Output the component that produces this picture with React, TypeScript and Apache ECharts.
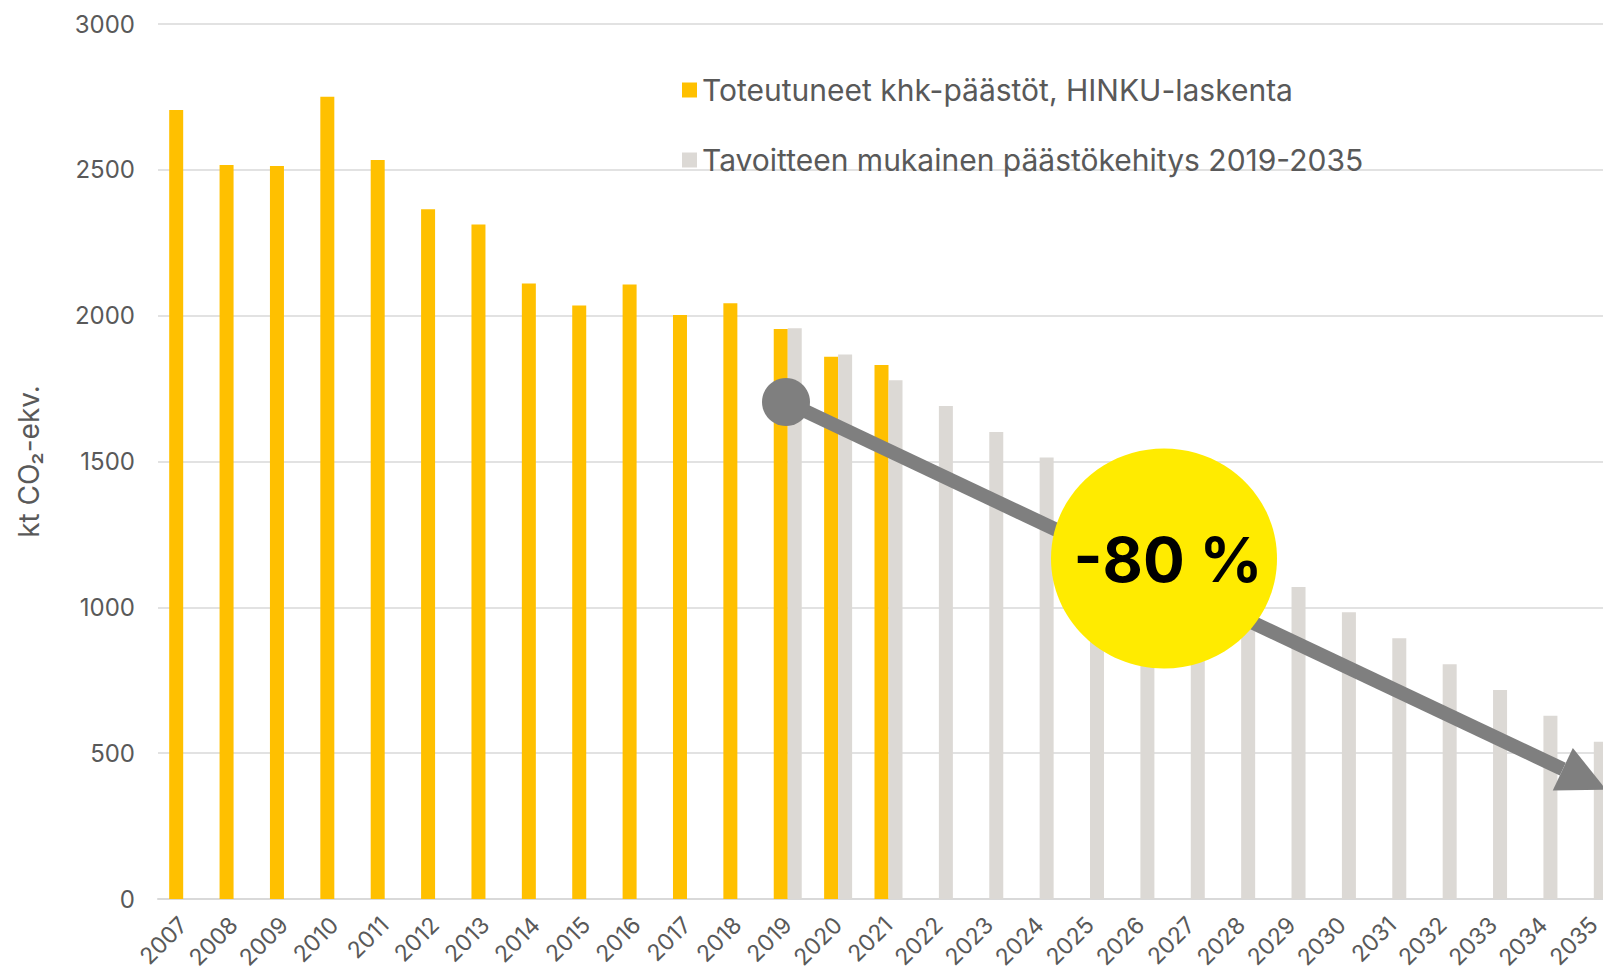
import React, { useEffect, useRef } from "react";
import * as echarts from "echarts";

const years = [
  "2007", "2008", "2009", "2010", "2011", "2012", "2013", "2014", "2015", "2016",
  "2017", "2018", "2019", "2020", "2021", "2022", "2023", "2024", "2025", "2026",
  "2027", "2028", "2029", "2030", "2031", "2032", "2033", "2034", "2035",
];

const actualName = "Toteutuneet khk-päästöt, HINKU-laskenta";
const actual: (number | null)[] = [
  2705, 2517, 2513, 2751, 2534, 2365, 2313, 2110, 2035, 2107,
  2002, 2043, 1954, 1859, 1831, null, null, null, null, null,
  null, null, null, null, null, null, null, null, null,
];

const targetName = "Tavoitteen mukainen päästökehitys 2019-2035";
const target: (number | null)[] = [
  null, null, null, null, null, null, null, null, null, null,
  null, null, 1957, 1867, 1779, 1690, 1601, 1514, 1425, 1336,
  1248, 1159, 1070, 983, 894, 805, 717, 628, 539,
];

const yTicks = { min: 0, max: 3000, interval: 500 };
const yAxisName = "kt CO₂-ekv.";
const badgeText = "-80 %";

const FONT = "Inter, 'Noto Sans', sans-serif";
const TEXT_COLOR = "#595959";

export default function App() {
  const ref = useRef<HTMLDivElement>(null);

  useEffect(() => {
    if (!ref.current) return;
    const chart = echarts.init(ref.current, null, { renderer: "svg" });

    // arrow geometry (annotation, in pixels)
    const sx = 786, sy = 402;
    const bx = 1562.8, by = 769.2;
    const dx = bx - sx, dy = by - sy;
    const len = Math.sqrt(dx * dx + dy * dy);
    const ux = dx / len, uy = dy / len;
    const px = -uy, py = ux;
    const halfBase = 23.5;
    const headLen = 48;
    const headPts = [
      [bx + px * halfBase, by + py * halfBase],
      [bx - px * halfBase, by - py * halfBase],
      [bx + ux * headLen, by + uy * headLen],
    ];

    chart.setOption({
      animation: false,
      backgroundColor: "#ffffff",
      textStyle: { fontFamily: FONT },
      grid: {
        left: 158,
        width: 1461,
        top: 24,
        height: 875,
        containLabel: false,
        outerBoundsMode: "none",
      },
      legend: {
        orient: "vertical",
        left: 677,
        top: 70,
        itemWidth: 15,
        itemHeight: 15,
        itemGap: 40,
        icon: "rect",
        textStyle: {
          color: TEXT_COLOR,
          fontSize: 30,
          fontFamily: FONT,
          lineHeight: 30,
        },
        data: [actualName, targetName],
      },
      xAxis: {
        type: "category",
        data: years,
        axisLine: { show: true, lineStyle: { color: "#d9d9d9", width: 2 } },
        axisTick: { show: false },
        axisLabel: {
          rotate: 45,
          color: TEXT_COLOR,
          fontSize: 23,
          fontFamily: FONT,
          margin: 22,
          interval: 0,
        },
      },
      yAxis: {
        type: "value",
        min: yTicks.min,
        max: yTicks.max,
        interval: yTicks.interval,
        name: yAxisName,
        nameLocation: "middle",
        nameGap: 115,
        nameTextStyle: { color: TEXT_COLOR, fontSize: 28, fontFamily: FONT },
        axisLine: { show: false },
        axisTick: { show: false },
        axisLabel: {
          color: TEXT_COLOR,
          fontSize: 24,
          fontFamily: FONT,
          margin: 23,
          formatter: (v: number) => String(v),
        },
        splitLine: { lineStyle: { color: "#d9d9d9", width: 1.5 } },
      },
      series: [
        {
          name: actualName,
          type: "bar",
          data: actual,
          barWidth: 14,
          barGap: "0%",
          itemStyle: { color: "#FFC000" },
        },
        {
          name: targetName,
          type: "bar",
          data: target,
          barWidth: 14,
          barGap: "0%",
          itemStyle: { color: "#DCD9D5" },
        },
      ],
      graphic: [
        {
          type: "line",
          z: 100,
          shape: { x1: sx, y1: sy, x2: bx, y2: by },
          style: { stroke: "#7F7F7F", lineWidth: 14 },
        },
        {
          type: "circle",
          z: 101,
          shape: { cx: sx, cy: sy, r: 24 },
          style: { fill: "#7F7F7F" },
        },
        {
          type: "polygon",
          z: 101,
          shape: { points: headPts },
          style: { fill: "#7F7F7F" },
        },
        {
          type: "ellipse",
          z: 102,
          shape: { cx: 1164, cy: 558.5, rx: 113, ry: 110 },
          style: { fill: "#FFEB00" },
        },
        {
          type: "text",
          z: 103,
          x: 1168,
          y: 559,
          style: {
            text: badgeText,
            fill: "#000000",
            fontSize: 62,
            fontWeight: "bold",
            fontFamily: FONT,
            align: "center",
            verticalAlign: "middle",
          },
        },
      ],
    });

    return () => {
      chart.dispose();
    };
  }, []);

  return (
    <div
      ref={ref}
      style={{ position: "absolute", left: 0, top: 0, width: 1603, height: 973 }}
    />
  );
}
